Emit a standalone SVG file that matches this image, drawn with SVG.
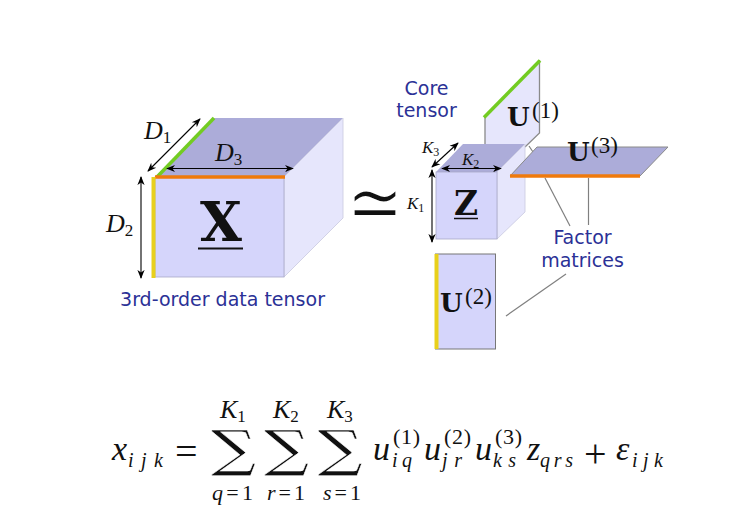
<svg xmlns="http://www.w3.org/2000/svg" width="735" height="529" viewBox="0 0 735 529">
<style>
.front{fill:#d5d5fb;stroke:#a9a9c9;stroke-width:.8}
.top{fill:#acacd9;stroke:none}
.side{fill:#e6e6fc;stroke:#c9c9e0;stroke-width:.8}
.edge{fill:none;stroke:#8a8a8a;stroke-width:1.3}
.lead{fill:none;stroke:#808080;stroke-width:1.2}
.dim{fill:none;stroke:#000;stroke-width:1.1;marker-start:url(#a);marker-end:url(#a)}
.lab{font-family:"DejaVu Sans",sans-serif;font-size:19px;fill:#2b3196;text-anchor:middle}
.m{font-family:"Liberation Serif",serif;font-style:italic;fill:#111}
.n{font-style:normal}
.r{font-family:"Liberation Serif",serif;fill:#111}
.b{font-family:"DejaVu Serif",serif;font-weight:bold;fill:#111}
.sum{font-family:"DejaVu Serif",serif;font-size:50px;fill:#111;text-anchor:middle;stroke:#fff;stroke-width:.4}
.s23{font-size:23px}.s22{font-size:22px}.s20{font-size:20px}.s17{font-size:17px}.s26{font-size:26px}.s34{font-size:34px}.s40{font-size:40px}.s12{font-size:12px}
</style>
<defs>
<marker id="a" viewBox="0 0 10 10" refX="9" refY="5" markerWidth="9" markerHeight="9" markerUnits="userSpaceOnUse" orient="auto-start-reverse"><path d="M0 1 L10 5 L0 9 L3 5 Z" fill="#000"/></marker>
</defs>
<g id="connectors">
<path class="lead" d="M545 178 L570 226"/>
<path class="lead" d="M588.500 178 L588.500 225"/>
<path class="lead" d="M506 316 L566 274"/>
<path class="lead" d="M529 146 L533 152"/>
</g>
<g id="data-tensor">
<path class="top" d="M155 177 L214 118 L343 118 L284 177 Z"/>
<path class="side" d="M284 177 L343 118 L343 218 L284 277 Z"/>
<rect class="front" x="155" y="177" width="129" height="100"/>
<path d="M157 177 L214 118" fill="none" stroke="#73cc22" stroke-width="3.500"/>
<path d="M155 177 L285 177" fill="none" stroke="#ef7a0c" stroke-width="3.500"/>
<path d="M153.500 177 L153.500 278" fill="none" stroke="#e8d01c" stroke-width="4"/>
<path class="dim" d="M148 171 L200 119"/>
<path class="dim" d="M167 168.500 L293 168.500"/>
<path class="dim" d="M141 177 L141 278"/>
<text class="m s26" x="144" y="139">D<tspan class="s17 n" dy="4">1</tspan></text>
<text class="m s26" x="215" y="161">D<tspan class="s17 n" dy="4">3</tspan></text>
<text class="m s26" x="106" y="232">D<tspan class="s17 n" dy="4">2</tspan></text>
<text class="b" x="221" y="241" font-size="54" text-anchor="middle">X</text>
<path d="M198 248.500 L243 248.500" stroke="#111" stroke-width="2"/>
<text class="lab" x="222.500" y="306">3rd-order data tensor</text>
</g>
<g id="similar"><text transform="translate(375 230.500) scale(1 1.25)" x="0" y="0" font-size="68" text-anchor="middle" fill="#111" stroke="#fff" stroke-width="1.800" style="font-family:'DejaVu Sans',sans-serif">≃</text></g>
<g id="factor-u1">
<path d="M485 117 L539.500 60 L539.500 133 L525 147 L485 147 Z" fill="#e6e6fc"/>
<path class="edge" d="M485 117 L485 147 M539.500 60 L539.500 133 L525 147"/>
<path d="M484 117.500 L540 60.500" fill="none" stroke="#73cc22" stroke-width="3.500"/>
<text class="b" x="507" y="126" font-size="26">U</text>
<text class="r s23" x="532" y="118">(1)</text>
</g>
<g id="core-tensor">
<path class="top" d="M436 172 L463 144 L525 144 L497 172 Z"/>
<path class="side" d="M497 172 L525 144 L525 212 L497 239 Z"/>
<rect class="front" x="436" y="172" width="61" height="67"/>
<path class="dim" d="M432 167 L458 143"/>
<path class="dim" d="M442 168.500 L501 168.500"/>
<path class="dim" d="M432 170 L432 242"/>
<text class="m s17" x="422" y="153">K<tspan class="s12 n" dy="3">3</tspan></text>
<text class="m s17" x="462" y="165">K<tspan class="s12 n" dy="3">2</tspan></text>
<text class="m s17" x="407" y="209">K<tspan class="s12 n" dy="3">1</tspan></text>
<text class="b" x="466" y="215" font-size="33" text-anchor="middle">Z</text>
<path d="M454 218.500 L478 218.500" stroke="#111" stroke-width="1.500"/>
<text class="lab" x="426.500" y="95">Core</text>
<text class="lab" x="426.500" y="117">tensor</text>
</g>
<g id="factor-u3">
<path d="M510 176 L537 147 L668 147 L640 176 Z" fill="#acacd9" stroke="#8a8a8a" stroke-width="1"/>
<path d="M510 176 L640 176" fill="none" stroke="#ef7a0c" stroke-width="3.500"/>
<text class="b" x="567" y="161" font-size="26">U</text>
<text class="r s23" x="591" y="153">(3)</text>
</g>
<g id="factor-u2">
<rect x="435.500" y="254" width="60" height="95" fill="#d5d5fb" stroke="#777" stroke-width="1"/>
<path d="M436.500 254 L436.500 349" fill="none" stroke="#e8d01c" stroke-width="4"/>
<text class="b" x="440" y="312" font-size="26">U</text>
<text class="r s23" x="465" y="304">(2)</text>
</g>
<g id="factor-label">
<text class="lab" x="582.500" y="244">Factor</text>
<text class="lab" x="582.500" y="267">matrices</text>
</g>
<g id="formula">
<text class="m s34" x="112" y="460">x</text>
<text class="m s20" x="128" y="467" textLength="35">ijk</text>
<text class="r s40" x="175" y="465">=</text>
<text class="sum" transform="translate(233.500 466) scale(1.25 1)">∑</text>
<text class="sum" transform="translate(286.500 466) scale(1.25 1)">∑</text>
<text class="sum" transform="translate(340 466) scale(1.25 1)">∑</text>
<text class="m s26" x="220" y="418">K<tspan class="s17 n" dy="4">1</tspan></text>
<text class="m s26" x="273" y="418">K<tspan class="s17 n" dy="4">2</tspan></text>
<text class="m s26" x="327" y="418">K<tspan class="s17 n" dy="4">3</tspan></text>
<text class="m s22" x="212" y="500" textLength="41">q<tspan class="n">=1</tspan></text>
<text class="m s22" x="267" y="500" textLength="38">r<tspan class="n">=1</tspan></text>
<text class="m s22" x="323" y="500" textLength="38">s<tspan class="n">=1</tspan></text>
<text class="m s34" x="373" y="460">u</text>
<text class="r s22" x="393" y="444" textLength="27">(1)</text>
<text class="m s20" x="392" y="467" textLength="20">iq</text>
<text class="m s34" x="424" y="460">u</text>
<text class="r s22" x="444" y="444" textLength="27">(2)</text>
<text class="m s20" x="442" y="467" textLength="20">jr</text>
<text class="m s34" x="475" y="460">u</text>
<text class="r s22" x="495" y="444" textLength="27">(3)</text>
<text class="m s20" x="493" y="467" textLength="23">ks</text>
<text class="m s34" x="527" y="460">z</text>
<text class="m s20" x="540" y="467" textLength="33">qrs</text>
<text class="r s40" x="584" y="467">+</text>
<text class="m s34" x="616" y="460">ε</text>
<text class="m s20" x="632" y="467" textLength="31">ijk</text>
</g>
</svg>
